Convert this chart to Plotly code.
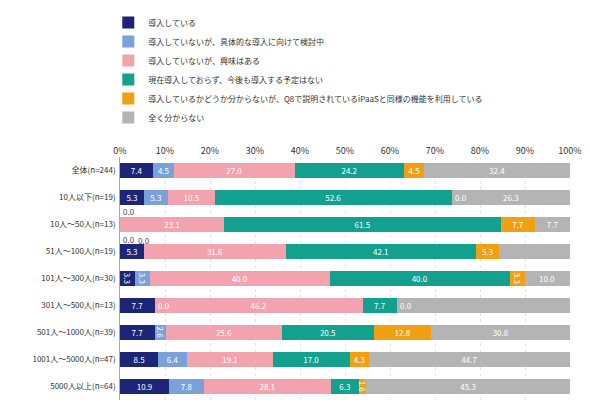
import plotly.graph_objects as go

categories = ["全体(n=244)", "10人以下(n=19)", "10人～50人(n=13)", "51人～100人(n=19)",
              "101人～300人(n=30)", "301人～500人(n=13)", "501人～1000人(n=39)",
              "1001人～5000人(n=47)", "5000人以上(n=64)"]
series_names = ["導入している", "導入していないが、具体的な導入に向けて検討中", "導入していないが、興味はある",
                "現在導入しておらず、今後も導入する予定はない",
                "導入しているかどうか分からないが、Q8で説明されているiPaaSと同様の機能を利用している", "全く分からない"]
s1 = [7.4, 5.3, 0.0, 5.3, 3.3, 7.7, 7.7, 8.5, 10.9]
s2 = [4.5, 5.3, 0.0, 0.0, 3.3, 0.0, 2.6, 6.4, 7.8]
s3 = [27.0, 10.5, 23.1, 31.6, 40.0, 46.2, 25.6, 19.1, 28.1]
s4 = [24.2, 52.6, 61.5, 42.1, 40.0, 7.7, 20.5, 17.0, 6.3]
s5 = [4.5, 0.0, 7.7, 5.3, 3.3, 0.0, 12.8, 4.3, 1.6]
s6 = [32.4, 26.3, 7.7, 15.8, 10.0, 38.5, 30.8, 44.7, 45.3]
tick_vals = [0, 10, 20, 30, 40, 50, 60, 70, 80, 90, 100]
tick_text = [f"{v}%" for v in tick_vals]

colors = ["#1c2576", "#7aa2d8", "#f2a3ae", "#13a08e", "#f0a012", "#b4b4b4"]
series = [s1, s2, s3, s4, s5, s6]

fig = go.Figure()
for name, vals, c in zip(series_names, series, colors):
    fig.add_trace(go.Bar(
        y=categories, x=vals, name=name, orientation="h", marker_color=c,
        marker_line_width=0, width=0.55,
        text=[f"{v:.1f}" if v > 0 else "" for v in vals],
        textposition="inside", insidetextanchor="middle", constraintext="none",
        textfont=dict(color="white", size=8), cliponaxis=False))

# zero-value labels
for ci, cat in enumerate(categories):
    cum = 0
    for si, vals in enumerate(series):
        v = vals[ci]
        if v == 0:
            if ci == 2 and si == 0:
                fig.add_annotation(x=cum, y=cat, text="0.0", showarrow=False, xanchor="left",
                                   font=dict(size=8, color="#444"), yshift=13, xshift=1)
            elif ci == 2 and si == 1:
                fig.add_annotation(x=cum, y=cat, text="0.0", showarrow=False, xanchor="left",
                                   font=dict(size=8, color="#444"), yshift=-15, xshift=1)
            elif ci == 3:
                fig.add_annotation(x=cum, y=cat, text="0.0", showarrow=False, xanchor="center",
                                   font=dict(size=8, color="#444"), yshift=11)
            else:
                fig.add_annotation(x=cum, y=cat, text="0.0", showarrow=False, xanchor="left",
                                   font=dict(size=8, color="white"), xshift=1)
        cum += v

fig.update_layout(
    barmode="stack", width=590, height=410,
    margin=dict(l=112, r=28, t=72, b=18),
    plot_bgcolor="white", paper_bgcolor="white",
    font=dict(family="Noto Sans CJK JP", size=9, color="#333"),
    uniformtext=dict(minsize=8, mode="show"),
    legend=dict(orientation="h", xref="container", x=0.17, y=1.0, yref="container",
                xanchor="left", yanchor="top", font=dict(size=8), traceorder="normal",
                itemwidth=30, entrywidth=0),
    showlegend=True,
    xaxis=dict(side="top", range=[0, 100], tickvals=tick_vals, ticktext=tick_text,
               showgrid=True, gridcolor="#e4e4e4", griddash="dot", zeroline=False,
               tickfont=dict(size=9), fixedrange=True),
    yaxis=dict(autorange="reversed", showline=True, linecolor="#aaa",
               tickfont=dict(size=8), ticksuffix=" "),
)
fig.write_html("out.html")
